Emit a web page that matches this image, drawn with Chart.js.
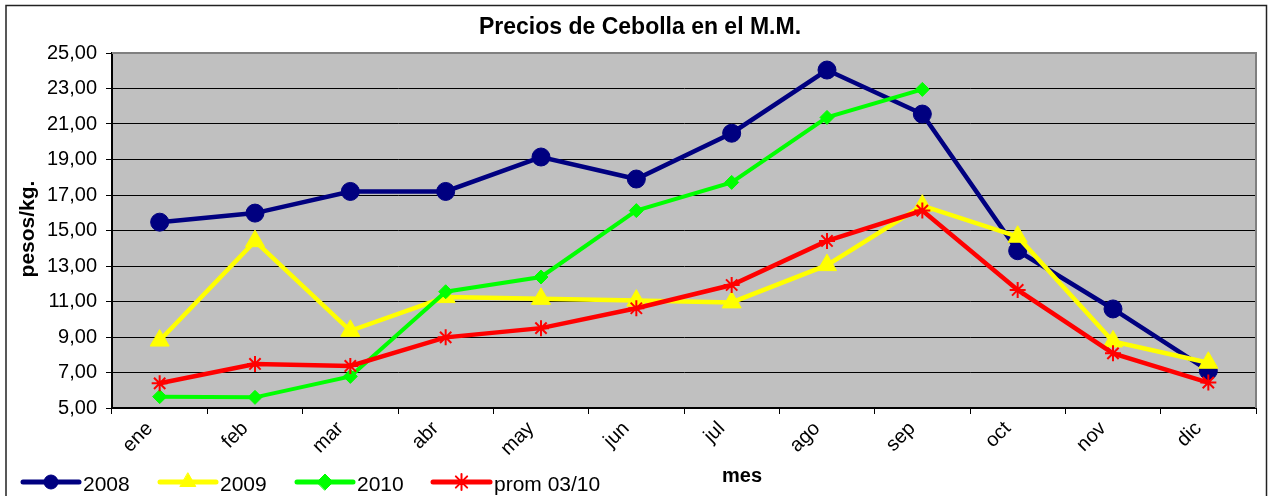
<!DOCTYPE html>
<html>
<head>
<meta charset="utf-8">
<script src="https://cdn.jsdelivr.net/npm/chart.js@4/dist/chart.umd.min.js"></script>
<style>
  html, body { margin: 0; padding: 0; background: #ffffff; }
  #wrap { width: 1268px; height: 496px; position: relative; }
</style>
</head>
<body>
<div id="wrap"><canvas id="c" width="1268" height="496"></canvas></div>
<script>
const months = ['ene','feb','mar','abr','may','jun','jul','ago','sep','oct','nov','dic'];
const yTicks = [5,7,9,11,13,15,17,19,21,23,25];
const s2008 = [15.47, 15.98, 17.20, 17.20, 19.14, 17.90, 20.48, 24.04, 21.56, 13.86, 10.58, 7.10];
const s2009 = [8.80, 14.40, 9.35, 11.25, 11.15, 11.05, 10.95, 13.05, 16.40, 14.65, 8.75, 7.55];
const s2010 = [5.64, 5.60, 6.78, 11.55, 12.38, 16.12, 17.71, 21.37, 22.95, null, null, null];
const sProm = [6.39, 7.48, 7.37, 8.98, 9.50, 10.62, 11.93, 14.41, 16.12, 11.65, 8.08, 6.43];
const seriesNames = ['2008', '2009', '2010', 'prom 03/10'];
const chartTitle = 'Precios de Cebolla en el M.M.';
const yTitle = 'pesos/kg.';
const xTitle = 'mes';

const FONT = '"Liberation Sans", Arial, Helvetica, sans-serif';

const styles = [
  { color: '#000080', pointStyle: 'circle', radius: 9, lw: 4.5, pbw: 1 },
  { color: '#FFFF00', pointStyle: 'triangle', radius: 11, lw: 4.5, pbw: 1 },
  { color: '#00FF00', pointStyle: 'rectRot', radius: 7, lw: 4, pbw: 1 },
  { color: '#FF0000', pointStyle: 'star', radius: 8, lw: 4.5, pbw: 2 }
];
const allData = [s2008, s2009, s2010, sProm];

const datasets = allData.map((d, i) => ({
  label: seriesNames[i],
  data: d,
  borderColor: styles[i].color,
  backgroundColor: styles[i].color,
  borderWidth: styles[i].lw,
  pointStyle: styles[i].pointStyle,
  pointRadius: styles[i].radius,
  pointHoverRadius: styles[i].radius,
  pointBackgroundColor: styles[i].color,
  pointBorderColor: styles[i].color,
  pointBorderWidth: styles[i].pbw,
  tension: 0,
  fill: false,
  spanGaps: false,
  order: 4 - i
}));

function drawMarker(ctx, st, x, y, r) {
  const opts = { pointStyle: st.pointStyle, radius: r, borderWidth: st.pbw, rotation: 0 };
  ctx.save();
  ctx.fillStyle = st.color;
  ctx.strokeStyle = st.color;
  ctx.lineWidth = st.pbw;
  if (Chart.helpers && Chart.helpers.drawPoint) {
    Chart.helpers.drawPoint(ctx, opts, x, y);
  } else {
    ctx.beginPath(); ctx.arc(x, y, r, 0, Math.PI * 2); ctx.fill();
  }
  ctx.restore();
}

const decor = {
  id: 'decor',
  beforeDraw(chart) {
    const { ctx, chartArea: a } = chart;
    ctx.save();
    ctx.fillStyle = '#ffffff';
    ctx.fillRect(0, 0, chart.width, chart.height);
    ctx.fillStyle = '#C0C0C0';
    ctx.fillRect(a.left, a.top, a.right - a.left, a.bottom - a.top);
    ctx.restore();
  },
  beforeDatasetsDraw(chart) {
    const { ctx, chartArea: a } = chart;
    ctx.save();
    ctx.strokeStyle = '#808080';
    ctx.lineWidth = 2;
    ctx.beginPath();
    ctx.moveTo(a.left, a.top);
    ctx.lineTo(a.right, a.top);
    ctx.lineTo(a.right, a.bottom);
    ctx.stroke();
    ctx.restore();
  },
  afterDraw(chart) {
    const { ctx } = chart;
    ctx.save();
    // outer border
    ctx.strokeStyle = '#222222';
    ctx.lineWidth = 1.5;
    ctx.strokeRect(6, 5.5, 1260.5, 520);
    // title
    ctx.fillStyle = '#000000';
    ctx.textAlign = 'center';
    ctx.textBaseline = 'middle';
    ctx.font = 'bold 23px ' + FONT;
    ctx.fillText(chartTitle, 640, 28);
    // y title
    ctx.save();
    ctx.translate(28, 229);
    ctx.rotate(-Math.PI / 2);
    ctx.font = 'bold 21px ' + FONT;
    ctx.fillText(yTitle, 0, 0);
    ctx.restore();
    // x title
    ctx.font = 'bold 20px ' + FONT;
    ctx.fillText(xTitle, 742, 476);
    // legend
    const items = [
      { x0: 23, x1: 79, tx: 83 },
      { x0: 160, x1: 216, tx: 220 },
      { x0: 297, x1: 353, tx: 357 },
      { x0: 433, x1: 490, tx: 494 }
    ];
    const ly = 482;
    items.forEach((it, i) => {
      const st = styles[i];
      ctx.strokeStyle = st.color;
      ctx.lineWidth = 5;
      ctx.lineCap = 'round';
      ctx.beginPath();
      ctx.moveTo(it.x0, ly);
      ctx.lineTo(it.x1, ly);
      ctx.stroke();
      drawMarker(ctx, st, (it.x0 + it.x1) / 2, ly, i === 1 ? 9 : (i === 0 ? 7 : 8));
      ctx.fillStyle = '#000000';
      ctx.textAlign = 'left';
      ctx.textBaseline = 'alphabetic';
      ctx.font = '21px ' + FONT;
      ctx.fillText(seriesNames[i], it.tx, 491);
    });
    ctx.restore();
  }
};

new Chart(document.getElementById('c'), {
  type: 'line',
  data: { labels: months, datasets },
  options: {
    responsive: false,
    devicePixelRatio: 1,
    animation: false,
    layout: { padding: { left: 0, right: 8, top: 53, bottom: 0 } },
    plugins: {
      legend: { display: false },
      title: { display: false },
      tooltip: { enabled: false }
    },
    scales: {
      x: {
        type: 'category',
        offset: true,
        grid: {
          offset: true,
          drawOnChartArea: false,
          drawTicks: true,
          tickLength: 6,
          color: '#000000',
          lineWidth: 1
        },
        border: { display: true, color: '#000000', width: 2 },
        ticks: {
          color: '#000000',
          font: { family: FONT, size: 20 },
          maxRotation: 45,
          minRotation: 45,
          autoSkip: false,
          padding: 3,
          labelOffset: -10
        },
        afterFit(scale) { scale.height = 88; }
      },
      y: {
        min: 5,
        max: 25,
        afterBuildTicks(scale) { scale.ticks = yTicks.map(v => ({ value: v })); },
        grid: {
          color: '#000000',
          lineWidth: 1,
          drawTicks: true,
          tickLength: 6
        },
        border: { display: true, color: '#000000', width: 2 },
        ticks: {
          color: '#000000',
          font: { family: FONT, size: 20 },
          padding: 9,
          callback: (v) => Number(v).toFixed(2).replace('.', ',')
        },
        afterFit(scale) { scale.width = 112; }
      }
    }
  },
  plugins: [decor]
});
</script>
</body>
</html>
